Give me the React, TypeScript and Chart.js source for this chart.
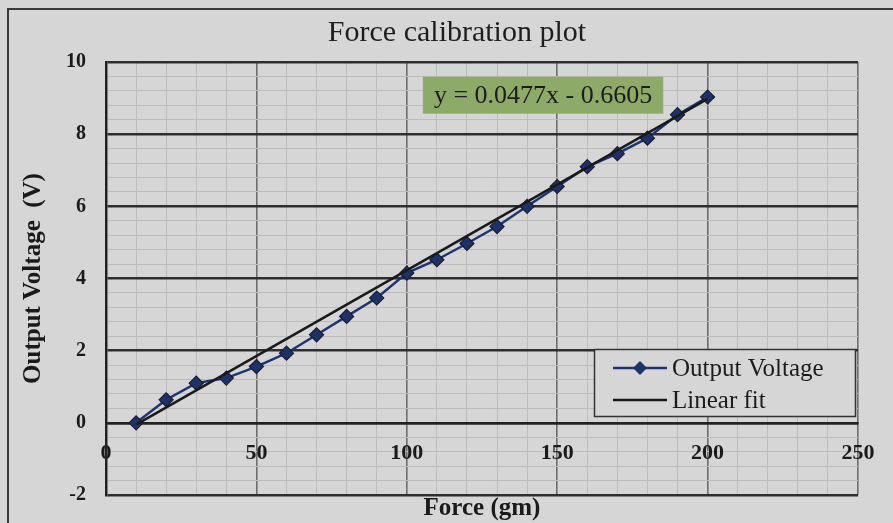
import React, { useEffect, useRef } from "react";
import { Chart, registerables } from "chart.js";

Chart.register(...registerables);

const FONT = "'Liberation Serif', 'Times New Roman', serif";
const BG = "#d6d6d6";

// ---- data ----
const chartTitle = "Force calibration plot";
const xAxisTitle = "Force (gm)";
const yAxisTitle = "Output Voltage  (V)";
const seriesLabels = ["Output Voltage", "Linear fit"];

const forceGm = [10, 20, 30, 40, 50, 60, 70, 80, 90, 100, 110, 120, 130, 140, 150, 160, 170, 180, 190, 200];
const outputVoltage = [0.0, 0.64, 1.1, 1.24, 1.56, 1.93, 2.44, 2.95, 3.46, 4.15, 4.52, 4.97, 5.44, 6.0, 6.55, 7.1, 7.46, 7.89, 8.54, 9.03];

const fitForceGm = [10, 200];
const fitVoltage = [-0.05, 8.98];

const xMajorTicks = [0, 50, 100, 150, 200, 250];
const yMajorTicks = [-2, 0, 2, 4, 6, 8, 10];
const xMinorStep = 10;
const yMinorStep = 0.4;

const equationText = "y = 0.0477x - 0.6605";
const equationAnchorX = 145.3; // data units
const equationAnchorY = 9.08;

const isMajor = (v: number, list: number[]) => list.some((m) => Math.abs(m - v) < 1e-6);

const backgroundPlugin = {
  id: "bgFrame",
  beforeDraw(chart: any) {
    const { ctx, width, height } = chart;
    ctx.save();
    ctx.fillStyle = BG;
    ctx.fillRect(0, 0, width, height);
    ctx.strokeStyle = "#3a3a3a";
    ctx.lineWidth = 2;
    ctx.beginPath();
    ctx.moveTo(8, height);
    ctx.lineTo(8, 9);
    ctx.lineTo(width, 9);
    ctx.stroke();
    ctx.restore();
  },
};

const equationPlugin = {
  id: "equationLabel",
  afterDatasetsDraw(chart: any) {
    const { ctx, scales } = chart;
    const cx = scales.x.getPixelForValue(equationAnchorX);
    const cy = scales.y.getPixelForValue(equationAnchorY);
    ctx.save();
    ctx.font = `26px ${FONT}`;
    const tw = ctx.measureText(equationText).width;
    const w = tw + 22;
    const h = 37;
    ctx.fillStyle = "#8eaa68";
    ctx.fillRect(cx - w / 2, cy - h / 2, w, h);
    ctx.fillStyle = "#1c1c1c";
    ctx.textAlign = "center";
    ctx.textBaseline = "middle";
    ctx.fillText(equationText, cx, cy + 1);
    ctx.restore();
  },
};

const legendPlugin = {
  id: "insideLegend",
  afterDraw(chart: any) {
    const { ctx, chartArea } = chart;
    const w = 261;
    const h = 67;
    const left = chartArea.right - 3 - w;
    const top = chartArea.top + 287;
    ctx.save();
    ctx.fillStyle = BG;
    ctx.fillRect(left, top, w, h);
    ctx.strokeStyle = "#333";
    ctx.lineWidth = 1.5;
    ctx.strokeRect(left + 0.5, top + 0.5, w, h);
    chart.data.datasets.forEach((ds: any, i: number) => {
      const ry = top + 19 + i * 32;
      const x1 = left + 19;
      const x2 = left + 73;
      ctx.strokeStyle = ds.borderColor;
      ctx.lineWidth = ds.borderWidth;
      ctx.beginPath();
      ctx.moveTo(x1, ry);
      ctx.lineTo(x2, ry);
      ctx.stroke();
      if (ds.pointRadius > 0) {
        const r = ds.pointRadius;
        const mx = (x1 + x2) / 2;
        ctx.fillStyle = ds.pointBackgroundColor;
        ctx.beginPath();
        ctx.moveTo(mx, ry - r);
        ctx.lineTo(mx + r, ry);
        ctx.lineTo(mx, ry + r);
        ctx.lineTo(mx - r, ry);
        ctx.closePath();
        ctx.fill();
      }
      ctx.fillStyle = "#1c1c1c";
      ctx.font = `25px ${FONT}`;
      ctx.textAlign = "left";
      ctx.textBaseline = "middle";
      ctx.fillText(ds.label, left + 78, ry + 1);
    });
    ctx.restore();
  },
};

export default function App() {
  const canvasRef = useRef<HTMLCanvasElement | null>(null);

  useEffect(() => {
    if (!canvasRef.current) return;
    Chart.defaults.font.family = FONT;
    const chart = new Chart(canvasRef.current, {
      type: "scatter",
      data: {
        datasets: [
          {
            label: seriesLabels[0],
            data: forceGm.map((x, i) => ({ x, y: outputVoltage[i] })),
            showLine: true,
            borderColor: "#1f3470",
            borderWidth: 2.5,
            pointStyle: "rectRot",
            pointRadius: 7,
            pointBackgroundColor: "#1f3268",
            pointBorderColor: "#181c34",
            pointBorderWidth: 1.2,
            order: 2,
          },
          {
            label: seriesLabels[1],
            data: fitForceGm.map((x, i) => ({ x, y: fitVoltage[i] })),
            showLine: true,
            borderColor: "#1a1a1a",
            borderWidth: 2.5,
            pointRadius: 0,
            order: 1,
          },
        ],
      },
      options: {
        responsive: false,
        animation: false,
        events: [],
        layout: { padding: { left: 21, right: 0, top: 0, bottom: 0 } },
        plugins: {
          legend: { display: false },
          tooltip: { enabled: false },
          title: {
            display: true,
            text: chartTitle,
            color: "#1e1e1e",
            font: { family: FONT, size: 30, weight: "normal", lineHeight: 1.2 },
            padding: { top: 15, bottom: 11 },
          },
        },
        scales: {
          x: {
            type: "linear",
            min: 0,
            max: 250,
            position: { y: 0 } as any,
            ticks: {
              stepSize: xMinorStep,
              autoSkip: false,
              maxRotation: 0,
              padding: 17.5,
              color: "#1a1a1a",
              font: { family: FONT, size: 22, weight: "bold", lineHeight: 1.2 },
              callback: (v: any) => (isMajor(Number(v), xMajorTicks) ? String(v) : ""),
            },
            grid: {
              drawTicks: false,
              color: (c: any) => (isMajor(c.tick.value, xMajorTicks) ? "#6e6e6e" : "#bcbcbc"),
              lineWidth: (c: any) => (isMajor(c.tick.value, xMajorTicks) ? 1.6 : 1),
            },
            border: { display: true, color: "#222", width: 2.5 },
          },
          x2: {
            type: "linear",
            min: 0,
            max: 250,
            position: "bottom",
            ticks: { display: false },
            grid: { display: false, drawTicks: false },
            border: { display: false },
            title: {
              display: true,
              text: xAxisTitle,
              color: "#1a1a1a",
              font: { family: FONT, size: 25, weight: "bold", lineHeight: 1 },
              padding: { top: 1, bottom: 2 },
            },
          },
          y: {
            type: "linear",
            min: -2,
            max: 10,
            position: "left",
            ticks: {
              stepSize: yMinorStep,
              autoSkip: false,
              padding: 20,
              color: "#1a1a1a",
              font: { family: FONT, size: 20, weight: "bold", lineHeight: 0.8 },
              callback: (v: any) => (isMajor(Number(v), yMajorTicks) ? String(Math.round(Number(v))) : ""),
            },
            grid: {
              drawTicks: false,
              color: (c: any) => (isMajor(c.tick.value, yMajorTicks) ? "#2e2e2e" : "#bcbcbc"),
              lineWidth: (c: any) => (isMajor(c.tick.value, yMajorTicks) ? 2.5 : 1),
            },
            border: { display: true, color: "#222", width: 2.5 },
            title: {
              display: true,
              text: yAxisTitle,
              color: "#1a1a1a",
              font: { family: FONT, size: 25, weight: "bold", lineHeight: 1 },
              padding: { top: 0, bottom: 0 },
            },
          },
          y2: {
            type: "linear",
            position: "right",
            ticks: { display: false },
            grid: { display: false, drawTicks: false },
            border: { display: false },
            title: {
              display: true,
              text: "",
              font: { size: 10, lineHeight: 1 },
              padding: { top: 25, bottom: 0 },
            },
          },
        },
      },
      plugins: [backgroundPlugin, equationPlugin, legendPlugin],
    } as any);
    return () => chart.destroy();
  }, []);

  return (
    <div style={{ position: "fixed", left: 0, top: 0, width: 893, height: 523, background: BG }}>
      <canvas ref={canvasRef} width={893} height={523} style={{ display: "block" }} />
    </div>
  );
}
